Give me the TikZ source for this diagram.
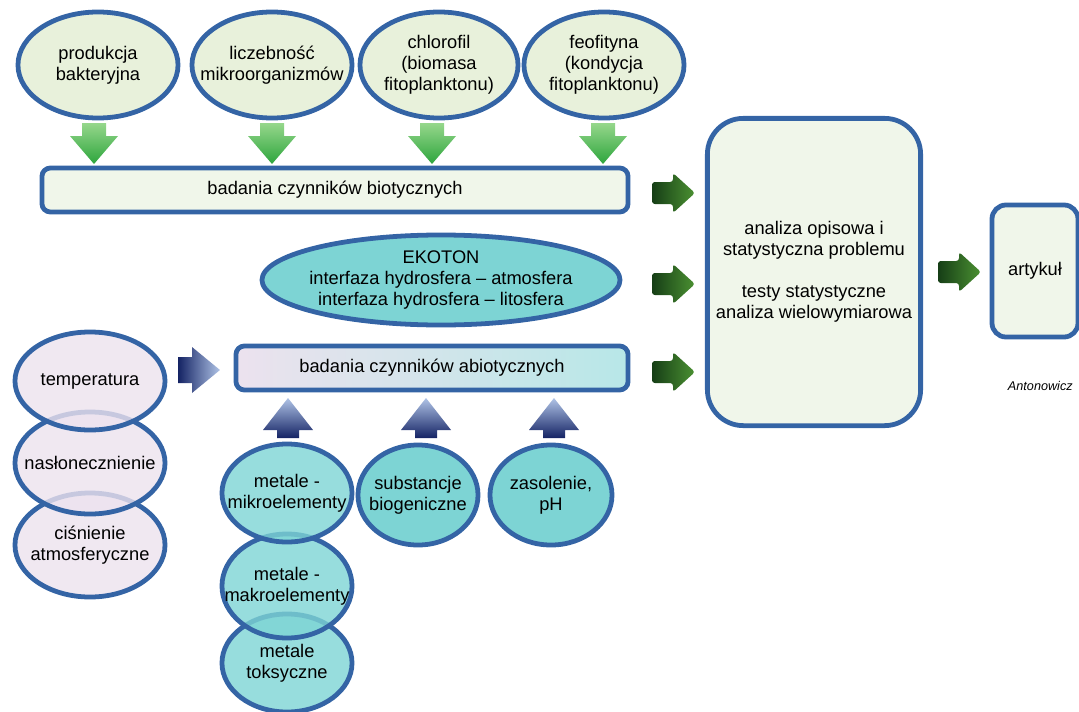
\documentclass[tikz,border=0pt]{standalone}
\usepackage{fontspec}
\setmainfont{Liberation Sans}
\usetikzlibrary{shapes.geometric,positioning}

\definecolor{brd}{RGB}{52,100,165}
\definecolor{lgreen}{RGB}{226,238,210}
\definecolor{pgreen}{RGB}{240,246,234}
\definecolor{teal1}{RGB}{125,212,212}
\definecolor{lav}{RGB}{236,226,238}
\definecolor{grnlight}{RGB}{150,215,140}
\definecolor{grndeep}{RGB}{45,165,60}
\definecolor{olivedark}{RGB}{22,62,22}
\definecolor{olivelight}{RGB}{75,145,50}
\definecolor{navy}{RGB}{20,35,100}
\definecolor{skyblue}{RGB}{175,195,230}

\begin{document}
\begin{tikzpicture}[x=0.025cm,y=-0.025cm,
  font=\fontsize{13}{15}\selectfont,
  bubble/.style={ellipse,draw=brd,line width=3.4pt,inner sep=0pt,fill opacity=0.8},
  txt/.style={align=center,inner sep=0pt},
  panel/.style={rectangle,draw=brd,line width=3.4pt,rounded corners=6pt,align=center},
  pics/arrdown/.style={code={
    \path[top color=grnlight,bottom color=grndeep]
      (-12,-20)--(12,-20)--(12,-7)--(24,-7)--(0,21)--(-24,-7)--(-12,-7)--cycle;}},
  pics/arrup/.style={code={
    \path[top color=skyblue,bottom color=navy]
      (0,-20)--(25,12)--(11,12)--(11,20)--(-11,20)--(-11,12)--(-25,12)--cycle;}},
  pics/arrblue/.style={code={
    \path[left color=navy,right color=skyblue]
      (-21,-13)--(-7,-13)--(-7,-23)--(21,0)--(-7,23)--(-7,13)--(-21,13)--cycle;}},
  pics/arrgreen/.style={code={
    \path[rounded corners=2pt,left color=olivedark,right color=olivelight]
      (-21,-11)--(0,-11)--(0,-20)--(22,0)--(0,20)--(0,11)--(-21,11)--cycle;}}
]
\clip (0,0) rectangle (1079,711);

% czynniki biotyczne
\node[bubble,fill=lgreen,minimum width=4cm,minimum height=2.65cm,
  label={[txt]center:{produkcja\\bakteryjna}}] (prod) at (98,65) {};
\node[bubble,fill=lgreen,minimum width=4cm,minimum height=2.65cm,
  label={[txt]center:{liczebność\\mikroorganizmów}}] (licz) at (272,65) {};
\node[bubble,fill=lgreen,minimum width=3.95cm,minimum height=2.65cm,
  label={[txt]center:{chlorofil\\(biomasa\\fitoplanktonu)}}] (chlor) at (439,65) {};
\node[bubble,fill=lgreen,minimum width=4cm,minimum height=2.65cm,
  label={[txt]center:{feofityna\\(kondycja\\fitoplanktonu)}}] (feof) at (604,65) {};

\pic at (94,143) {arrdown};
\pic at (272,143) {arrdown};
\pic at (432,143) {arrdown};
\pic at (603,143) {arrdown};

\node[panel,fill=pgreen,minimum width=14.65cm,minimum height=1.1cm] (bio) at (335,190) {badania czynników biotycznych};

% ekoton
\node[bubble,fill=teal1,fill opacity=1,minimum width=8.95cm,minimum height=2.25cm,
  label={[txt]center:{EKOTON\\interfaza hydrosfera -- atmosfera\\interfaza hydrosfera -- litosfera}}] (ekoton) at (441,280) {};

% czynniki abiotyczne
\node[panel,left color=lav,right color=teal1!55,minimum width=9.8cm,minimum height=1.1cm] (abio) at (432,368) {badania czynników abiotycznych};

\node[bubble,fill=lav,minimum width=3.75cm,minimum height=2.6cm,
  label={[txt]center:{ciśnienie\\atmosferyczne}}] (cisn) at (90,545) {};
\node[bubble,fill=lav,minimum width=3.75cm,minimum height=2.55cm,
  label={[txt]center:nasłonecznienie}] (nasl) at (90,463) {};
\node[bubble,fill=lav,minimum width=3.75cm,minimum height=2.45cm,
  label={[txt]center:temperatura}] (temp) at (90,381) {};

\pic at (199,370) {arrblue};

\node[bubble,fill=teal1,minimum width=3.25cm,minimum height=2.45cm,
  label={[txt]center:{metale\\toksyczne}}] (toks) at (287,663) {};
\node[bubble,fill=teal1,minimum width=3.25cm,minimum height=2.6cm,
  label={[txt]center:{metale -\\makroelementy}}] (makro) at (287,586) {};
\node[bubble,fill=teal1,minimum width=3.25cm,minimum height=2.45cm,
  label={[txt]center:{metale -\\mikroelementy}}] (mikro) at (287,493) {};
\node[bubble,fill=teal1,fill opacity=1,minimum width=3cm,minimum height=2.5cm,
  label={[txt]center:{substancje\\biogeniczne}}] (subst) at (418,495) {};
\node[bubble,fill=teal1,fill opacity=1,minimum width=3.05cm,minimum height=2.5cm,
  label={[txt]center:{zasolenie,\\pH}}] (zasol) at (551,495) {};

\pic at (288,418) {arrup};
\pic at (426,418) {arrup};
\pic at (554,418) {arrup};

% analiza
\node[panel,fill=pgreen,rounded corners=0.9cm,minimum width=5.33cm,minimum height=7.68cm] (anal) at (814,272)
  {analiza opisowa i\\statystyczna problemu\\[15pt]testy statystyczne\\analiza wielowymiarowa};
\pic at (673,193) {arrgreen};
\pic at (673,284) {arrgreen};
\pic at (673,372) {arrgreen};

\pic at (959,272) {arrgreen};
\node[panel,fill=pgreen,rounded corners=0.35cm,minimum width=2.15cm,minimum height=3.3cm] (art) at (1035,271) {artykuł};

\node[anchor=west,font=\fontsize{9}{10}\selectfont\itshape] (sig) at (1003,386) {Antonowicz};

\end{tikzpicture}
\end{document}
